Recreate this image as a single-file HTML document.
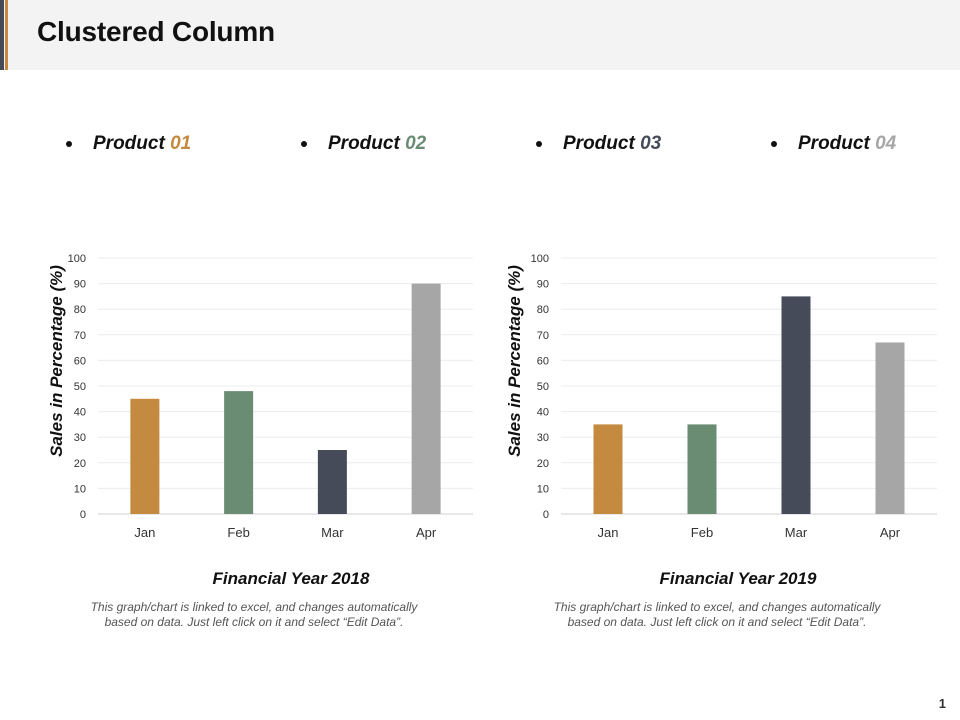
<!DOCTYPE html>
<html><head><meta charset="utf-8">
<style>
body{margin:0;width:960px;height:720px;background:#fff;position:relative;overflow:hidden;font-family:"Liberation Sans",sans-serif;}
.hdr{position:absolute;left:0;top:0;width:960px;height:70px;background:#f3f3f3;}
.a1{position:absolute;left:0;top:0;width:4px;height:70px;background:#454b59;}
.a2{position:absolute;left:5px;top:0;width:3px;height:70px;background:#c48a3f;}
h1{position:absolute;left:37px;top:16px;margin:0;font-size:28px;font-weight:bold;color:#111;letter-spacing:-0.2px;}
.leg{position:absolute;top:133px;font-size:19px;font-weight:bold;font-style:italic;color:#111;}
.dot{position:absolute;top:141px;width:6px;height:6px;border-radius:3px;background:#111;}
.ft{position:absolute;font-size:17px;font-weight:bold;font-style:italic;color:#111;width:300px;text-align:center;}
.note{position:absolute;font-size:12px;font-style:italic;color:#555;width:420px;text-align:center;line-height:15px;white-space:nowrap;}
.pg{position:absolute;right:14px;top:696px;font-size:13px;font-weight:bold;color:#333;}
</style></head><body>
<div class="hdr"></div>
<div class="a1"></div>
<div class="a2"></div>
<h1>Clustered Column</h1>

<div class="dot" style="left:66px"></div>
<div class="leg" style="left:93px">Product <span style="color:#c48a3f">01</span></div>
<div class="dot" style="left:301px"></div>
<div class="leg" style="left:328px">Product <span style="color:#6a8c73">02</span></div>
<div class="dot" style="left:536px"></div>
<div class="leg" style="left:563px">Product <span style="color:#454b59">03</span></div>
<div class="dot" style="left:771px"></div>
<div class="leg" style="left:798px">Product <span style="color:#a6a6a6">04</span></div>

<svg id="chart" width="960" height="720" style="position:absolute;left:0;top:0"></svg>

<div class="ft" style="left:141px;top:569px">Financial Year 2018</div>
<div class="note" style="left:44px;top:600px">This graph/chart is linked to excel, and changes automatically<br>based on data. Just left click on it and select “Edit Data”.</div>
<div class="ft" style="left:588px;top:569px">Financial Year 2019</div>
<div class="note" style="left:507px;top:600px">This graph/chart is linked to excel, and changes automatically<br>based on data. Just left click on it and select “Edit Data”.</div>
<div class="pg">1</div>

<script>
const categories = ["Jan","Feb","Mar","Apr"];
const values2018 = [45,48,25,90];
const values2019 = [35,35,85,67];
const yTicks = [0,10,20,30,40,50,60,70,80,90,100];
const colors = ["#c48a3f","#6a8c73","#454b59","#a6a6a6"];

const svg = document.getElementById('chart');
const NS = 'http://www.w3.org/2000/svg';
function mk(tag, attrs, parent){
  const e = document.createElementNS(NS, tag);
  for (const k in attrs) e.setAttribute(k, attrs[k]);
  (parent||svg).appendChild(e);
  return e;
}
function drawChart(id, x0, x1, values, titleX){
  const y0 = 514, y1 = 258;
  const yScale = v => y0 - (v/100)*(y0-y1);
  const bw = (x1-x0)/categories.length;
  const xCenter = i => x0 + bw*(i+0.5);
  const g = mk('g', {});
  
  
  yTicks.forEach(t => {
    const y = yScale(t);
    const l = mk('line', {x1:x0, x2:x1, y1:y, y2:y, stroke: t===0?'#d0d0d0':'#ececec', 'stroke-width':1}, g);
    
    
    const tx = mk('text', {x:x0-12, y:y+4, 'text-anchor':'end', 'font-size':11, fill:'#333', 'font-family':'Liberation Sans, sans-serif'}, g);
    tx.textContent = t;
    
    
  });
  values.forEach((v,i) => {
    const r = mk('rect', {x:xCenter(i)-14.5, y:yScale(v), width:29, height:y0-yScale(v), fill:colors[i]}, g);
    
    
    const tx = mk('text', {x:xCenter(i), y:537, 'text-anchor':'middle', 'font-size':13, fill:'#333', 'font-family':'Liberation Sans, sans-serif'}, g);
    tx.textContent = categories[i];
    
    
  });
  const at = mk('text', {x:0, y:0, transform:'translate('+titleX+',361) rotate(-90)', 'text-anchor':'middle', 'font-size':17, 'font-weight':'bold', 'font-style':'italic', fill:'#111', 'font-family':'Liberation Sans, sans-serif'}, g);
  at.textContent = 'Sales in Percentage  (%)';
  
  
}
drawChart('chart-2018', 98, 473, values2018, 62);
drawChart('chart-2019', 561, 937, values2019, 520);
</script>
</body></html>
